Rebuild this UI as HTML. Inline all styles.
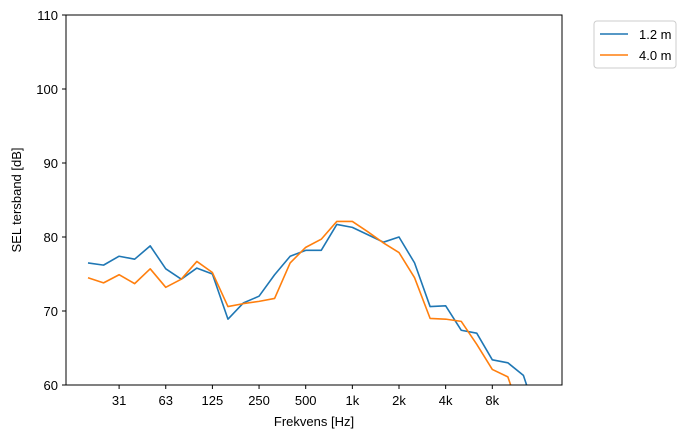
<!DOCTYPE html>
<html><head><meta charset="utf-8"><style>
body{margin:0;background:#fff}
svg text{font-family:"Liberation Sans","DejaVu Sans",sans-serif;font-size:13px;fill:#000}
</style></head><body>
<svg id="chart" width="693" height="438" xmlns="http://www.w3.org/2000/svg">
<defs><clipPath id="clip"><rect x="66" y="15" width="496" height="370"/></clipPath></defs>
<g id="axes"></g>
<g id="series" clip-path="url(#clip)"></g>
<rect x="66" y="15" width="496" height="370" fill="none" stroke="#000" stroke-width="1"/>
<text x="314" y="426" text-anchor="middle">Frekvens [Hz]</text>
<text transform="translate(21,200) rotate(-90)" text-anchor="middle">SEL tersband [dB]</text>
<g>
<rect x="594" y="21" width="82" height="47" rx="3" fill="#fff" stroke="#ccc"/>
<line x1="600" y1="34" x2="628" y2="34" stroke="#1f77b4" stroke-width="1.6"/>
<text x="639" y="39">1.2 m</text>
<line x1="600" y1="55" x2="628" y2="55" stroke="#ff7f0e" stroke-width="1.6"/>
<text x="639" y="60">4.0 m</text>
</g>
</svg>
<script>
const bands=["20","25","31.5","40","50","63","80","100","125","160","200","250","315","400","500","630","800","1k","1.25k","1.6k","2k","2.5k","3.15k","4k","5k","6.3k","8k","10k","12.5k","16k"];
const series12=[76.5,76.2,77.4,77.0,78.8,75.7,74.3,75.8,75.0,68.9,71.1,72.0,74.9,77.4,78.2,78.2,81.7,81.3,80.3,79.3,80.0,76.5,70.6,70.7,67.4,67.0,63.4,63.0,61.3,55];
const series40=[74.5,73.8,74.9,73.7,75.7,73.2,74.3,76.7,75.2,70.6,71.0,71.3,71.7,76.5,78.6,79.7,82.1,82.1,80.7,79.2,77.9,74.5,69.0,68.9,68.6,65.5,62.1,61.1,55];
const xTickLabels=["31","63","125","250","500","1k","2k","4k","8k"];
const xTickIdx=[2,5,8,11,14,17,20,23,26];
const yTicks=[60,70,80,90,100,110];
const NS="http://www.w3.org/2000/svg";
const xs=i=>88+i*15.55;
const ys=v=>385-(v-60)*7.4;
const ax=document.getElementById('axes'),sr=document.getElementById('series');
function mk(t,a,p){const e=document.createElementNS(NS,t);for(const k in a)e.setAttribute(k,a[k]);p.appendChild(e);return e;}
yTicks.forEach(v=>{
 const l=mk('line',{x1:62,x2:66,y1:ys(v),y2:ys(v),stroke:'#000'},ax);
 
 
 const t=mk('text',{x:58,y:ys(v)+5,'text-anchor':'end'},ax);t.textContent=v;
 
 
});
xTickIdx.forEach((ix,k)=>{
 const l=mk('line',{x1:xs(ix),x2:xs(ix),y1:385,y2:389,stroke:'#000'},ax);
 
 
 const t=mk('text',{x:xs(ix),y:405,'text-anchor':'middle'},ax);t.textContent=xTickLabels[k];
 
 
});
[[series12,'#1f77b4','line-1-2m'],[series40,'#ff7f0e','line-4-0m']].forEach(([d,c,n])=>{
 const p=mk('polyline',{points:d.map((v,i)=>xs(i)+','+ys(v)).join(' '),fill:'none',stroke:c,'stroke-width':1.6,'stroke-linejoin':'round'},sr);
 
 
});
</script>
</body></html>
